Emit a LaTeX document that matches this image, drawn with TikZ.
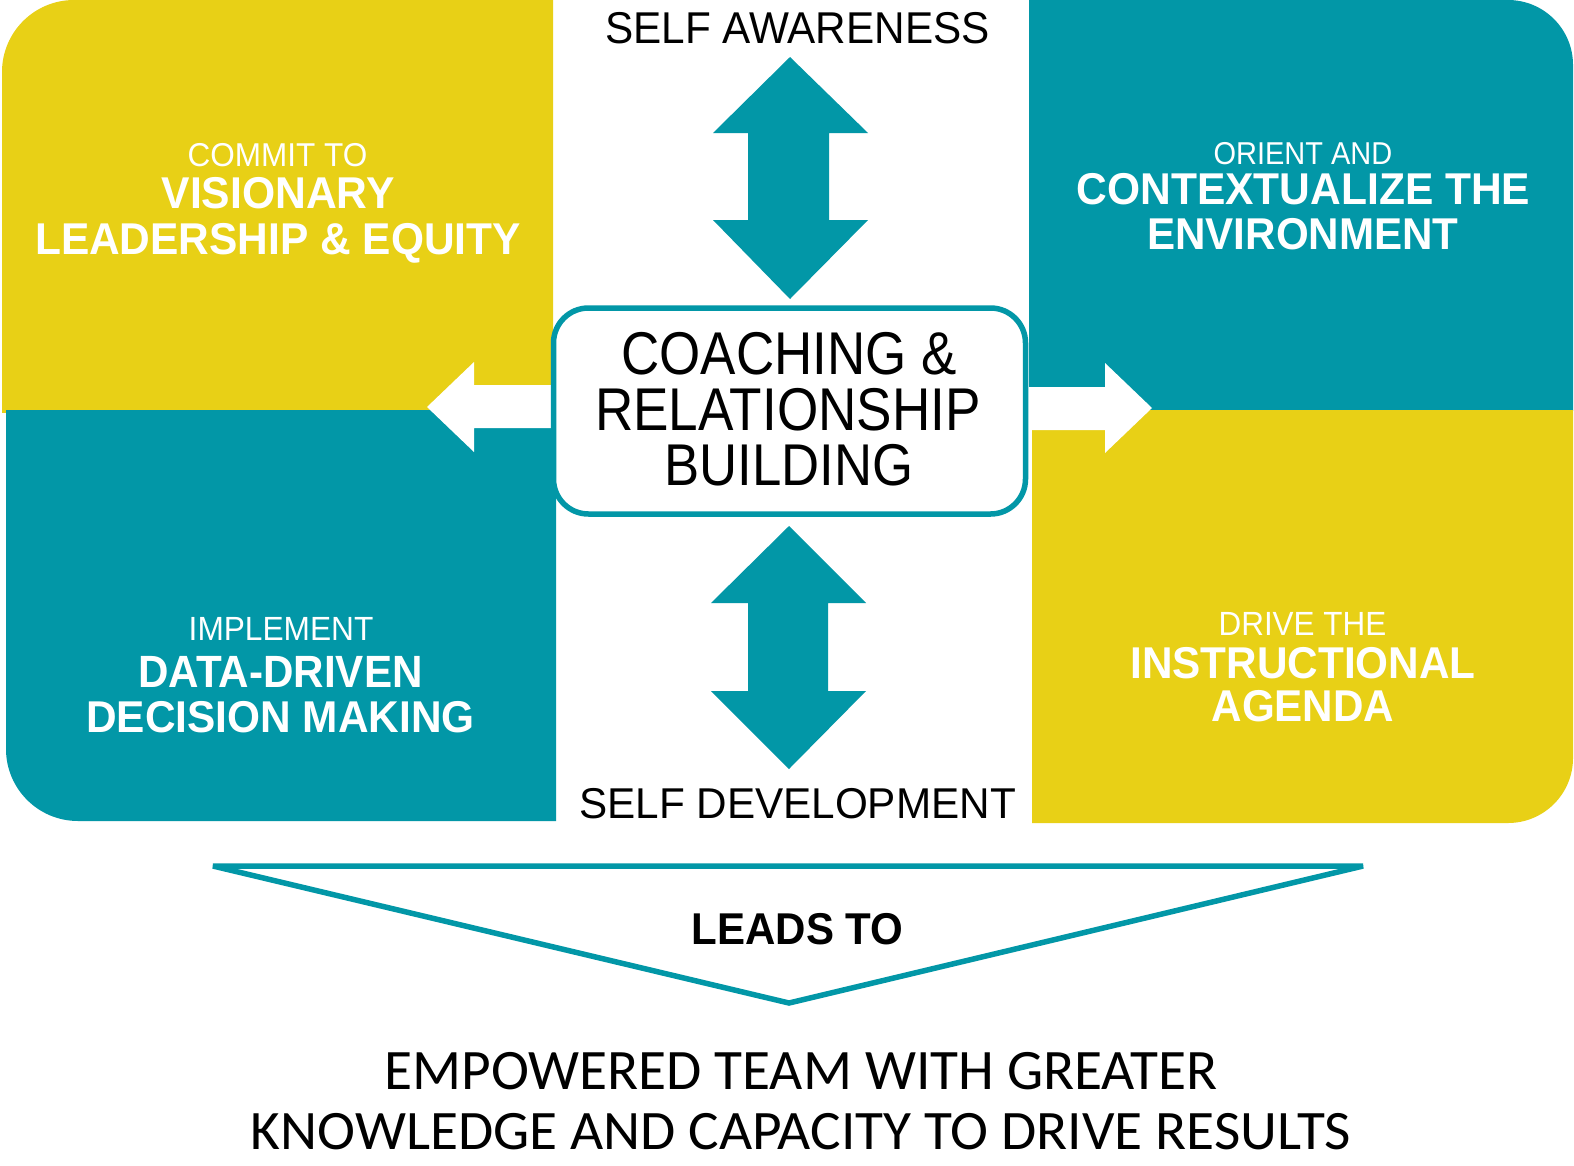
\documentclass[tikz,border=0pt]{standalone}
\usepackage{fontspec}
\usepackage{graphicx}
\setmainfont{Liberation Sans}
\newfontfamily\calib{Carlito}
\definecolor{yel}{RGB}{232,208,22}
\definecolor{tealc}{RGB}{2,151,167}
\newcommand{\ft}[3]{\resizebox{1.0038\dimexpr #1pt\relax}{1.0034\dimexpr #2pt\relax}{#3}}
\begin{document}
\begin{tikzpicture}[x=1pt,y=-1pt,
  lab/.style={inner sep=0pt, anchor=base},
  wlab/.style={lab, text=white},
  blab/.style={lab, text=black},
  twoway/.style={fill=tealc},
  sidearrow/.style={fill=white}]
\useasboundingbox[fill=white] (0,0) rectangle (1574,1165);
% quadrants
\begin{scope}
  \clip (2,0) rectangle (553,412);
  \fill[yel,rounded corners=72pt] (2,0) rectangle (800,700);
\end{scope}
\begin{scope}
  \clip (6,410) rectangle (556,821);
  \fill[tealc,rounded corners=72pt] (6,100) rectangle (800,821);
\end{scope}
\begin{scope}
  \clip (1029,0) rectangle (1574,410);
  \fill[tealc,rounded corners=65pt] (800,0) rectangle (1573,700);
\end{scope}
\begin{scope}
  \clip (1032,410) rectangle (1574,823);
  \fill[yel,rounded corners=65pt] (800,100) rectangle (1573,823);
\end{scope}
% white side arrows
\fill[sidearrow] (427,407) -- (474,362) -- (474,385) -- (552,385) -- (552,428) -- (474,428) -- (474,452) -- cycle;
\fill[sidearrow] (1152,408) -- (1105,363) -- (1105,387) -- (1025,387) -- (1025,430) -- (1105,430) -- (1105,453) -- cycle;
% vertical double arrows
\fill[twoway] (790,57) -- (868,133) -- (829,133) -- (829,220) -- (868,220) -- (790,299) -- (713,220) -- (748,220) -- (748,133) -- (713,133) -- cycle;
\fill[twoway] (789,526) -- (866,603) -- (828,603) -- (828,691) -- (866,691) -- (789,769) -- (711,691) -- (748,691) -- (748,603) -- (711,603) -- cycle;
% central box
\node[draw=tealc, line width=5.5pt, fill=white, rounded corners=35pt,
      minimum width=472pt, minimum height=206pt, inner sep=0pt] (core) at (789.5,411) {};
\begin{scope}[x=1.0038pt,y=-1.0034pt]
\node[blab] (c1) at (786,373) {\ft{334}{42}{COACHING \&}};
\node[blab] (c2) at (785,429) {\ft{384}{42}{RELATIONSHIP}};
\node[blab] (c3) at (786,484) {\ft{248}{41}{BUILDING}};
% top / bottom labels
\node[blab] (sa) at (794.5,43) {\ft{383}{31}{SELF AWARENESS}};
\node[blab] (sd) at (794.5,816) {\ft{435}{30}{SELF DEVELOPMENT}};
% quadrant texts
\node[wlab] (tl1) at (276.5,166) {\ft{179}{23}{COMMIT TO}};
\node[wlab] (tl2) at (277,208) {\ft{232}{31}{\bfseries VISIONARY}};
\node[wlab] (tl3) at (277,254) {\ft{484}{31}{\bfseries LEADERSHIP \& EQUITY}};
\node[wlab] (tr1) at (1298,164) {\ft{178}{22}{ORIENT AND}};
\node[wlab] (tr2) at (1298.5,204) {\ft{452}{31}{\bfseries CONTEXTUALIZE THE}};
\node[wlab] (tr3) at (1298,249) {\ft{310}{31}{\bfseries ENVIRONMENT}};
\node[wlab] (bl1) at (280,638) {\ft{184}{23}{IMPLEMENT}};
\node[wlab] (bl2) at (279.5,685) {\ft{283}{31}{\bfseries DATA-DRIVEN}};
\node[wlab] (bl3) at (279.5,730) {\ft{387}{31}{\bfseries DECISION MAKING}};
\node[wlab] (br1) at (1297.5,633) {\ft{167}{23}{DRIVE THE}};
\node[wlab] (br2) at (1298,676) {\ft{344}{31}{\bfseries INSTRUCTIONAL}};
\node[wlab] (br3) at (1298,719) {\ft{182}{31}{\bfseries AGENDA}};
\node[blab] (lt) at (794.5,941) {\ft{211}{31}{\bfseries LEADS TO}};
% result
\node[blab] (r1) at (798,1086) {\ft{830}{37}{\calib EMPOWERED TEAM WITH GREATER}};
\node[blab] (r2) at (798,1146) {\ft{1096}{36}{\calib KNOWLEDGE AND CAPACITY TO DRIVE RESULTS}};
\end{scope}
% leads-to triangle
\coordinate (tA) at (213,866);
\coordinate (tB) at (1363,866);
\coordinate (tC) at (789,1003);
\draw[tealc, line width=5.5pt, line join=miter, miter limit=2] (tA) -- (tB) -- (tC) -- cycle;
\end{tikzpicture}
\end{document}
